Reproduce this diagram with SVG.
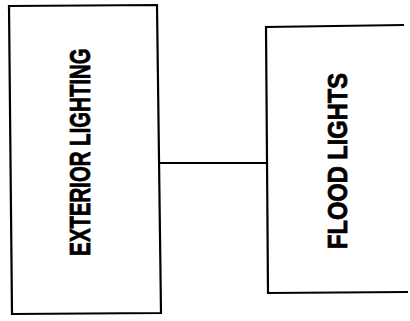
<svg xmlns="http://www.w3.org/2000/svg" width="410" height="321" viewBox="0 0 410 321">
  <style>
    .box { fill: none; stroke: #000; stroke-width: 2.2; stroke-linejoin: miter; }
    .wire { fill: none; stroke: #000; stroke-width: 2; }
    .label { font-family: "Liberation Sans", Arial, sans-serif; font-weight: bold; fill: #000; stroke: #000; stroke-width: 0.8; text-anchor: middle; }
  </style>
  <rect width="410" height="321" fill="#fff"/>
  <g id="connectors">
    <line class="wire" x1="160" y1="163" x2="267" y2="163"/>
  </g>
  <g id="exterior-lighting">
    <polygon class="box" points="9,6 157,5 161,313 12,314"/>
    <!-- condensed vertical label -->
    <text class="label" font-size="30" transform="translate(90,152) rotate(-90) scale(0.68,1)">EXTERIOR LIGHTING</text>
  </g>
  <g id="flood-lights">
    <path class="box" d="M404,25 L266,27 L268,293 L408,292"/>
    <text class="label" font-size="27" transform="translate(347,161) rotate(-90) scale(0.875,1)">FLOOD LIGHTS</text>
  </g>
</svg>
